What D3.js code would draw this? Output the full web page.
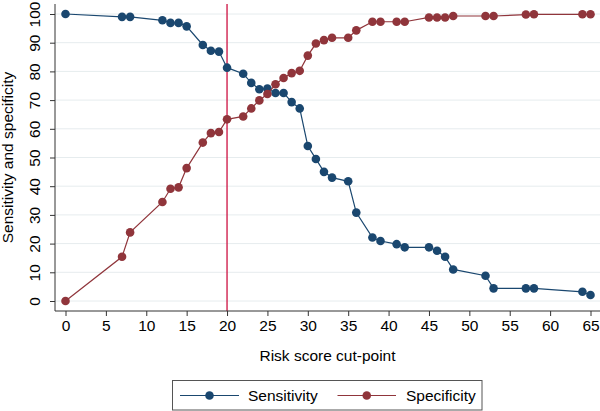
<!DOCTYPE html>
<html><head><meta charset="utf-8">
<script src="https://cdn.jsdelivr.net/npm/d3@7"></script>
<style>body{margin:0;background:#fff}svg{display:block}text{font-family:"Liberation Sans",Arial,sans-serif;fill:#000}</style>
</head><body><div id="chart"></div>
<script>
const cutPoints = [0,7,8,12,13,14,15,17,18,19,20,22,23,24,25,26,27,28,29,30,31,32,33,35,36,38,39,41,42,45,46,47,48,52,53,57,58,64,65];
const sensitivity = [100,99,99,97.8,96.9,96.9,95.7,89.2,87.2,86.9,81.3,79.2,76,73.8,74,72.5,72.5,69.3,67.1,54,49.5,45,43,41.7,30.8,22.1,20.9,19.8,18.7,18.7,17.5,15.4,11,8.8,4.4,4.4,4.4,3.2,2.1];
const specificity = [0,15.4,23.9,34.5,39.1,39.6,46.3,55.2,58.5,58.9,63.3,64.3,67.1,69.9,72.1,75.5,77.7,79.4,80.2,85.5,89.7,90.9,91.7,91.7,94.3,97.3,97.3,97.3,97.3,98.8,98.8,98.8,99.3,99.3,99.3,99.8,99.9,99.9,99.9];
const xTicks = [0,5,10,15,20,25,30,35,40,45,50,55,60,65];
const yTicks = [0,10,20,30,40,50,60,70,80,90,100];
const refLine = 20;
const seriesNames = ["Sensitivity","Specificity"];
const seriesColors = ["#1a476f","#90353b"];

const W = 600, H = 411;
const svg = d3.select("#chart").append("svg").attr("width", W).attr("height", H);
const plot = {left: 55, right: 600, top: 4, bottom: 311};
const x = d3.scaleLinear().domain([0,65]).range([65.5, 590.5]);
const y = d3.scaleLinear().domain([0,100]).range([301, 14]);
const fs = "15.5px";

// gridlines
svg.append("g").selectAll("line").data(yTicks).join("line")
  .attr("x1", plot.left).attr("x2", plot.right)
  .attr("y1", d => y(d)).attr("y2", d => y(d))
  .attr("stroke", "#e6ecee").attr("stroke-width", 1);

// reference line
svg.append("line").attr("x1", x(refLine)).attr("x2", x(refLine))
  .attr("y1", plot.top).attr("y2", plot.bottom)
  .attr("stroke", "#cc1040").attr("stroke-width", 1.3);

// axes
const xAxis = svg.append("g").attr("transform", `translate(0,${plot.bottom})`)
  .call(d3.axisBottom(x).tickValues(xTicks).tickSize(5).tickPadding(4).tickSizeOuter(0));
xAxis.select(".domain").attr("d", `M${plot.left},0H${plot.right}`).attr("stroke", "#333");
xAxis.selectAll(".tick line").attr("stroke", "#333");
xAxis.selectAll("text").style("font-size", fs).attr("fill", "#000");

const yAxis = svg.append("g").attr("transform", `translate(${plot.left},0)`)
  .call(d3.axisLeft(y).tickValues(yTicks).tickSize(5).tickSizeOuter(0));
yAxis.select(".domain").attr("d", `M0,${plot.top}V${plot.bottom}`).attr("stroke", "#333");
yAxis.selectAll(".tick line").attr("stroke", "#333");
yAxis.selectAll("text").style("font-size", fs).attr("fill", "#000")
  .attr("x", null).attr("dy", null)
  .attr("transform", "translate(-15,0) rotate(-90)")
  .attr("text-anchor", "middle").attr("dominant-baseline", "auto")
  .attr("y", 0);

// axis titles
svg.append("text").attr("x", (plot.left + plot.right)/2 + 0).attr("y", 361)
  .attr("text-anchor", "middle").style("font-size", fs).text("Risk score cut-point");
svg.append("text").attr("transform", `translate(13,${(y(0)+y(100))/2}) rotate(-90)`)
  .attr("text-anchor", "middle").style("font-size", fs).text("Sensitivity and specificity");

// series
const allSeries = [sensitivity, specificity];
allSeries.forEach((vals, i) => {
  const pts = cutPoints.map((c, j) => [c, vals[j]]);
  svg.append("path").datum(pts)
    .attr("d", d3.line().x(d => x(d[0])).y(d => y(d[1])))
    .attr("fill", "none").attr("stroke", seriesColors[i]).attr("stroke-width", 1.2);
  svg.append("g").selectAll("circle").data(pts).join("circle")
    .attr("cx", d => x(d[0])).attr("cy", d => y(d[1])).attr("r", 4.3)
    .attr("fill", seriesColors[i]);
});

// legend
const lg = svg.append("g");
lg.append("rect").attr("x", 172.5).attr("y", 380.5).attr("width", 309.5).attr("height", 29.5)
  .attr("fill", "#fff").attr("stroke", "#555").attr("stroke-width", 1);
const legendItems = [{x0: 180, x1: 239, tx: 248}, {x0: 337.5, x1: 396, tx: 406}];
legendItems.forEach((it, i) => {
  lg.append("line").attr("x1", it.x0).attr("x2", it.x1).attr("y1", 395.5).attr("y2", 395.5)
    .attr("stroke", seriesColors[i]).attr("stroke-width", 1.2);
  lg.append("circle").attr("cx", (it.x0 + it.x1)/2).attr("cy", 395.5).attr("r", 4.3).attr("fill", seriesColors[i]);
  lg.append("text").attr("x", it.tx).attr("y", 401).style("font-size", fs).text(seriesNames[i]);
});
</script></body></html>
